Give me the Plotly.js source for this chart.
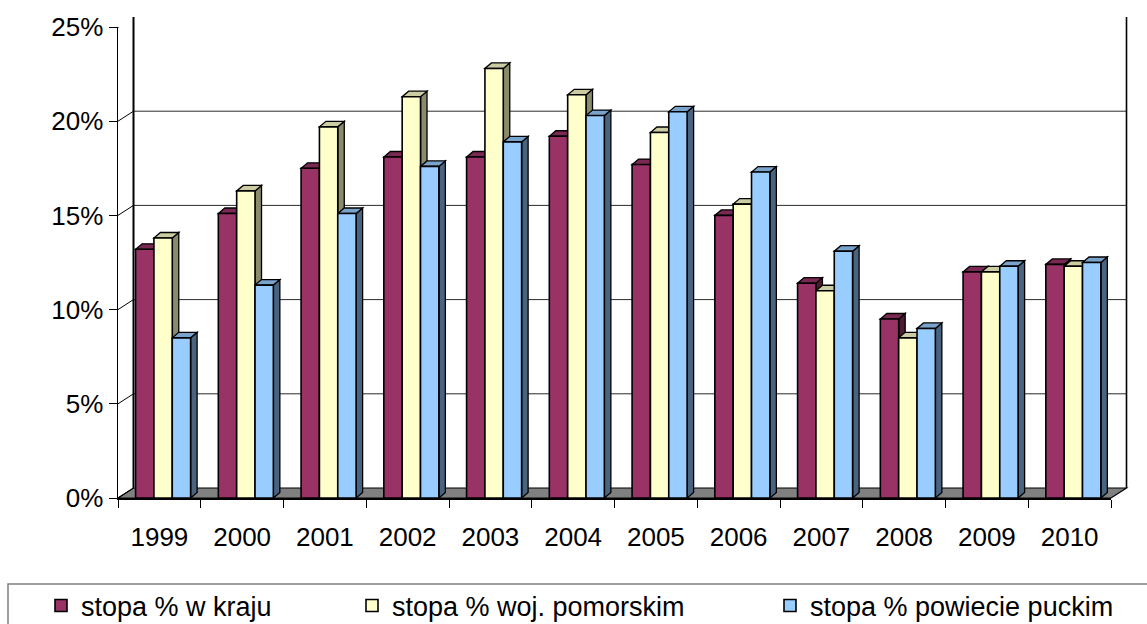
<!DOCTYPE html>
<html>
<head>
<meta charset="utf-8">
<script src="https://cdn.plot.ly/plotly-3.0.1.min.js"></script>
<style>
html,body{margin:0;padding:0;background:#fff;overflow:hidden;}
#chart{width:1147px;height:660px;}
</style>
</head>
<body>
<div id="chart"></div>
<script>
// ---------- data ----------
const years = ['1999','2000','2001','2002','2003','2004','2005','2006','2007','2008','2009','2010'];
const kraj      = [13.2, 15.1, 17.5, 18.1, 18.1, 19.2, 17.7, 15.0, 11.4, 9.5, 12.0, 12.4];
const pomorskie = [13.8, 16.3, 19.7, 21.3, 22.8, 21.4, 19.4, 15.6, 11.0, 8.5, 12.0, 12.3];
const puck      = [8.5, 11.3, 15.1, 17.6, 18.9, 20.3, 20.5, 17.3, 13.1, 9.0, 12.3, 12.5];
const seriesNames = ['stopa % w kraju', 'stopa % woj. pomorskim', 'stopa % powiecie puckim'];
const yTicks = [0, 5, 10, 15, 20, 25];

// ---------- style / layout constants ----------
// (the drawing is taller than the 624px window so the bottom legend row can
//  sit at the window edge without Plotly pushing the margins; overflow is hidden)
const W = 1147, H = 660;
const L = 118, R = 1111, B = 498, T = 27;   // front plane (pixels)
const DX = 15.5, DY = 10;                    // wall depth (pixels)
const YMAX = 25;
const fx = p => p / W;
const fy = p => 1 - p / H;
const pxPerCat = (R - L) / years.length;
const pxPerUnit = (B - T) / YMAX;

const front = ['#993366', '#FFFFCC', '#99CCFF'];
const side  = ['#4F1A35', '#8A8A6C', '#4A6480'];
const top_  = ['#7A2952', '#CCCCA3', '#7AA3CC'];
const series = [kraj, pomorskie, puck];

const groupW = 0.665, barW = groupW / 3, shift = 0.045;
const bdx = 6.5 / pxPerCat, bdy = 5.5 / pxPerUnit;
const FONT = 'Liberation Sans, Arial, sans-serif';

const traces = series.map((vals, i) => ({
  type: 'bar',
  name: seriesNames[i],
  x: years,
  y: vals,
  width: barW,
  offset: -groupW / 2 + i * barW + shift,
  marker: { color: front[i], line: { color: '#000', width: 1.6 } },
  legend: i === 0 ? 'legend' : ('legend' + (i + 1)),
  hoverinfo: 'skip'
}));

const shapes = [];
// floor
shapes.push({
  type: 'path', xref: 'paper', yref: 'paper', layer: 'below',
  path: `M ${fx(L)},${fy(B)} L ${fx(R)},${fy(B)} L ${fx(R + DX)},${fy(B - DY)} L ${fx(L + DX)},${fy(B - DY)} Z`,
  fillcolor: '#808080', line: { color: '#000', width: 1.2 }
});
// back wall gridlines & left wall diagonals
yTicks.forEach(v => {
  if (v > 0) {
    shapes.push({
      type: 'line', layer: 'below',
      xref: 'paper', x0: fx(L + DX), x1: fx(R + DX),
      yref: 'y', ysizemode: 'pixel', yanchor: v, y0: DY, y1: DY,
      line: { color: v === YMAX ? '#000' : '#2a2a2a', width: v === YMAX ? 2 : 1 }
    });
  }
  shapes.push({
    type: 'line', layer: 'below',
    xref: 'paper', x0: fx(L), x1: fx(L + DX),
    yref: 'y', ysizemode: 'pixel', yanchor: v, y0: 0, y1: DY,
    line: { color: '#000', width: v === YMAX ? 1.6 : 1 }
  });
});
// back wall vertical edges
shapes.push({ type: 'line', layer: 'below', xref: 'paper', yref: 'paper',
  x0: fx(L + DX), x1: fx(L + DX), y0: fy(B - DY), y1: fy(T - DY), line: { color: '#000', width: 2 } });
shapes.push({ type: 'line', layer: 'below', xref: 'paper', yref: 'paper',
  x0: fx(R + DX), x1: fx(R + DX), y0: fy(B - DY), y1: fy(T - DY), line: { color: '#000', width: 1.6 } });

// 3D faces of bars (from the data, in axis units)
series.forEach((vals, i) => {
  vals.forEach((v, k) => {
    const x0 = k - groupW / 2 + i * barW + shift;
    const x1 = x0 + barW;
    shapes.push({
      type: 'path', xref: 'x', yref: 'y', layer: 'between',
      path: `M ${x1},0 L ${x1 + bdx},${bdy} L ${x1 + bdx},${v + bdy} L ${x1},${v} Z`,
      fillcolor: side[i], line: { color: '#000', width: 1.3 }
    });
    shapes.push({
      type: 'path', xref: 'x', yref: 'y', layer: 'between',
      path: `M ${x0},${v} L ${x1},${v} L ${x1 + bdx},${v + bdy} L ${x0 + bdx},${v + bdy} Z`,
      fillcolor: top_[i], line: { color: '#000', width: 1.3 }
    });
  });
});
// legend frame
shapes.push({ type: 'rect', layer: 'below', xref: 'paper', yref: 'paper',
  x0: fx(8), x1: fx(1160), y0: fy(584), y1: fy(650), line: { color: '#808080', width: 1.5 }, fillcolor: 'rgba(0,0,0,0)' });

const legendBase = { orientation: 'h', xanchor: 'left', yanchor: 'middle', y: fy(606),
  bgcolor: 'rgba(0,0,0,0)', borderwidth: 0, font: { family: FONT, size: 27, color: '#000' },
  itemwidth: 30 };

const layout = {
  width: W, height: H,
  margin: { l: 0, r: 0, t: 0, b: 0, pad: 0 },
  paper_bgcolor: '#fff', plot_bgcolor: 'rgba(0,0,0,0)',
  barmode: 'overlay',
  showlegend: true,
  font: { family: FONT, color: '#000' },
  xaxis: {
    type: 'category', domain: [fx(L), fx(R)], range: [-0.5, years.length - 0.5],
    tickson: 'boundaries', ticks: 'outside', ticklen: 8, tickwidth: 1, tickcolor: '#000',
    showline: true, linecolor: '#000', linewidth: 1.5, showgrid: false, zeroline: false,
    ticklabelstandoff: 15,
    tickfont: { family: FONT, size: 26, color: '#000' }, fixedrange: true
  },
  yaxis: {
    domain: [fy(B), fy(T)], range: [0, YMAX], tickvals: yTicks, ticktext: yTicks.map(v => v + '%'),
    ticks: 'outside', ticklen: 8, tickwidth: 1, tickcolor: '#000',
    showline: true, linecolor: '#000', linewidth: 1.5, showgrid: false, zeroline: false,
    tickfont: { family: FONT, size: 26, color: '#000' }, fixedrange: true
  },
  legend: Object.assign({}, legendBase, { x: fx(41) }),
  legend2: Object.assign({}, legendBase, { x: fx(352) }),
  legend3: Object.assign({}, legendBase, { x: fx(770) }),
  shapes: shapes
};

Plotly.newPlot('chart', traces, layout, { staticPlot: true, displayModeBar: false });
</script>
</body>
</html>
